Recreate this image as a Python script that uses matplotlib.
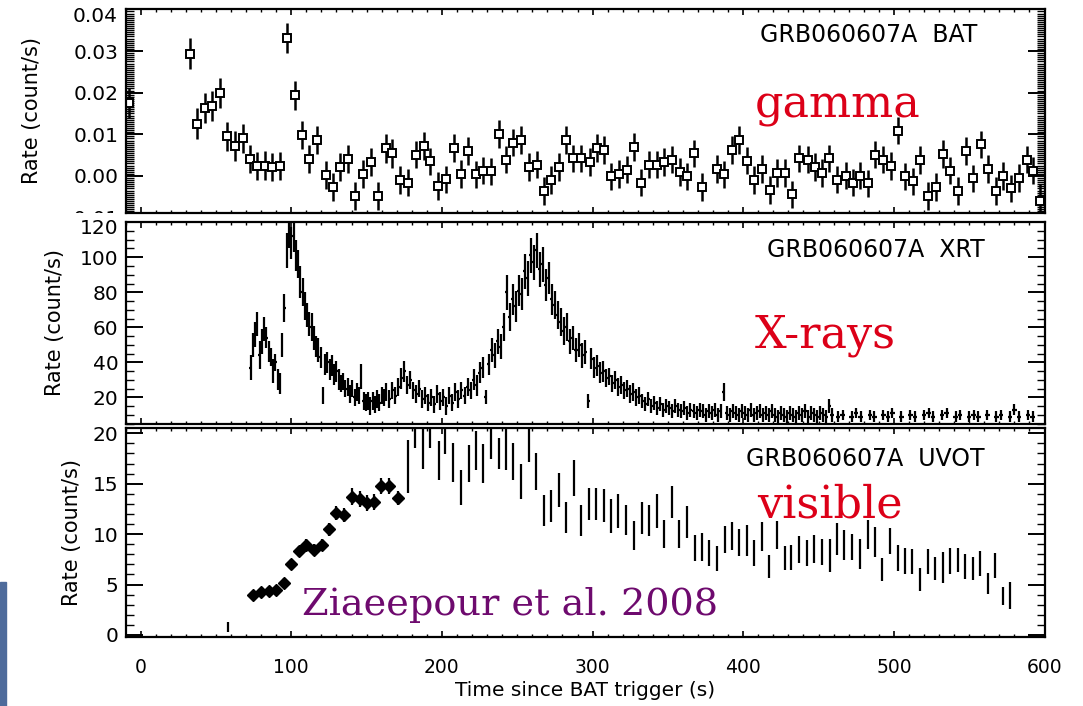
import numpy as np
import matplotlib
matplotlib.use('Agg')
import matplotlib.pyplot as plt
from matplotlib.ticker import MultipleLocator, FuncFormatter
from matplotlib.patches import Rectangle
from matplotlib.transforms import Bbox, TransformedBbox

# ---- BAT (gamma) light curve, ~5 s bins
bat_time = [-8.0, 32.5, 37.6, 42.5, 47.4, 52.4, 57.3, 62.4, 67.7, 72.8, 77.4, 82.3, 87.4, 92.5,
            97.5, 102.4, 107.3, 112.1, 117.3, 122.8, 127.7, 132.5, 137.4, 142.3, 147.6, 152.9,
            157.7, 162.6, 167.2, 172.3, 177.6, 182.7, 187.8, 192.2, 197.3, 202.6, 208.0, 212.8,
            217.2, 222.3, 227.4, 232.5, 237.8, 242.7, 247.5, 252.4, 257.5, 262.8, 267.9, 272.5,
            277.4, 282.5, 287.3, 292.4, 298.0, 302.8, 307.7, 312.3, 317.7, 322.8, 327.8, 332.3,
            337.4, 342.7, 347.7, 352.8, 357.7, 362.6, 367.6, 372.9, 377.7, 382.5, 387.5, 392.4,
            397.5, 402.4, 407.4, 412.7, 417.9, 422.7, 427.8, 432.7, 437.3, 442.9, 447.7, 452.6,
            457.2, 462.5, 468.1, 472.7, 477.6, 482.7, 487.5, 492.6, 498.0, 503.0, 507.4, 512.5,
            517.4, 522.5, 527.8, 532.8, 537.3, 542.4, 547.7, 552.7, 557.9, 562.3, 567.6, 572.7,
            577.8, 583.1, 588.2, 592.2, 597.0]
bat_rate = [0.0176, 0.0294, 0.0125, 0.0164, 0.0168, 0.0200, 0.0095, 0.0072, 0.0090, 0.0041,
            0.0024, 0.0025, 0.0021, 0.0024, 0.0331, 0.0194, 0.0099, 0.0041, 0.0086, 0.0003,
            -0.0026, 0.0021, 0.0041, -0.0048, 0.0005, 0.0033, -0.0048, 0.0066, 0.0054, -0.0010,
            -0.0016, 0.0051, 0.0072, 0.0035, -0.0024, -0.0008, 0.0067, 0.0005, 0.0060, 0.0004,
            0.0013, 0.0011, 0.0101, 0.0039, 0.0080, 0.0086, 0.0021, 0.0027, -0.0036, -0.0010,
            0.0021, 0.0086, 0.0042, 0.0042, 0.0033, 0.0067, 0.0062, -0.0001, 0.0005, 0.0015,
            0.0070, -0.0016, 0.0027, 0.0027, 0.0033, 0.0039, 0.0009, -0.0001, 0.0054, -0.0026,
            -0.0135, 0.0017, 0.0004, 0.0062, 0.0086, 0.0037, -0.0010, 0.0017, -0.0034, 0.0007,
            0.0007, -0.0044, 0.0042, 0.0039, 0.0021, 0.0007, 0.0042, -0.0009, 0.0001, -0.0016,
            0.0001, -0.0018, 0.0051, 0.0039, 0.0024, 0.0109, -0.0001, -0.0013, 0.0038, -0.0048,
            -0.0026, 0.0053, 0.0013, -0.0036, 0.0060, -0.0006, 0.0076, 0.0017, -0.0036, 0.0000,
            -0.0030, -0.0005, 0.0039, 0.0013, -0.0060]
bat_err = [0.0036, 0.0037, 0.0037, 0.0036, 0.0036, 0.0036, 0.0035, 0.0035, 0.0035, 0.0034,
           0.0034, 0.0034, 0.0034, 0.0034, 0.0036, 0.0035, 0.0034, 0.0034, 0.0034, 0.0034,
           0.0034, 0.0034, 0.0034, 0.0034, 0.0034, 0.0034, 0.0034, 0.0034, 0.0034, 0.0033,
           0.0033, 0.0033, 0.0033, 0.0033, 0.0033, 0.0033, 0.0033, 0.0033, 0.0033, 0.0033,
           0.0033, 0.0033, 0.0033, 0.0033, 0.0033, 0.0033, 0.0033, 0.0033, 0.0033, 0.0033,
           0.0033, 0.0033, 0.0033, 0.0033, 0.0033, 0.0033, 0.0033, 0.0033, 0.0033, 0.0033,
           0.0033, 0.0033, 0.0033, 0.0033, 0.0033, 0.0033, 0.0033, 0.0033, 0.0033, 0.0033,
           0.0048, 0.0033, 0.0033, 0.0033, 0.0033, 0.0033, 0.0033, 0.0033, 0.0033, 0.0033,
           0.0033, 0.0033, 0.0033, 0.0033, 0.0033, 0.0033, 0.0033, 0.0033, 0.0033, 0.0033,
           0.0033, 0.0033, 0.0033, 0.0033, 0.0033, 0.0033, 0.0033, 0.0033, 0.0033, 0.0033,
           0.0033, 0.0033, 0.0033, 0.0033, 0.0033, 0.0033, 0.0033, 0.0033, 0.0033, 0.0033,
           0.0033, 0.0033, 0.0033, 0.0033, 0.0040]

# ---- XRT (X-ray) light curve
xrt_time = [73, 74.5, 76, 77.5, 79, 80.5, 82, 83.5, 85, 86.5, 88, 89.5, 91, 92.5, 94, 95.5,
            97, 98.5, 100, 101.5, 103, 104.5, 106, 107.5, 109, 110.5, 112, 113.5, 115, 116.5,
            118, 119.5, 121, 122.5, 124, 125.5, 127, 128.5, 130, 131.5, 133, 134.5, 136, 137.5,
            139, 140.5, 142, 143.5, 145, 146.5, 148, 149.5, 151, 152.5, 154, 155.5, 157, 158.5,
            160, 161.5,
            163, 165, 167, 169, 171, 173, 175, 177, 179, 181, 183, 185, 187, 189, 191, 193,
            195, 197, 199, 201, 203, 205, 207, 209, 211, 213, 215, 217, 219, 221, 223, 225,
            227, 229, 231, 233, 235, 237, 239, 241, 243, 245, 247, 249, 251, 253, 255, 257,
            259, 261, 263, 265, 267, 269, 271, 273, 275, 277, 279, 281, 283, 285, 287, 289,
            291, 293, 295, 297, 299, 301, 303, 305, 307, 309, 311, 313, 315, 317, 319, 321,
            323, 325, 327, 329, 331,
            333, 335, 337, 339, 341, 343, 345, 347, 349, 351, 353, 355, 357, 359, 361, 363,
            365, 367, 369, 371, 373, 375, 377, 379, 381, 383, 385, 387, 389, 391, 393, 395,
            397, 399, 401, 403, 405, 407, 409, 411, 413, 415, 417, 419, 421, 423, 425, 427,
            429, 431, 433, 435, 437, 439, 441, 443, 445, 447, 449, 451, 453, 455, 457, 459,
            463, 466, 472, 475, 478, 484, 487, 493, 496, 499, 505, 511, 514, 520, 523, 526,
            532, 535, 541, 544, 550, 553, 556, 562, 568, 571, 577, 580, 583, 589, 592]
xrt_rate = [37, 50, 56, 62, 44, 52, 59, 54, 46, 43, 35, 40, 30, 28, 50, 71,
            104, 115, 108, 112, 101, 96, 86, 80, 72, 67, 62, 60, 54, 49,
            47, 43, 21, 39, 40, 36, 38, 33, 35, 30, 28, 29, 25, 26,
            22, 25, 20, 23, 21, 32, 18, 17, 18, 15, 18, 16, 19, 17,
            21, 20,
            23, 19, 24, 21, 26, 31, 35, 27, 30, 24, 22, 25, 19, 21, 17, 20,
            16, 22, 18, 20, 15, 21, 17, 23, 19, 24, 21, 26, 24, 30, 27, 34,
            37, 20, 39, 47, 44, 52, 49, 60, 80, 66, 76, 72, 81, 79, 92, 88,
            101, 97, 104, 93, 96, 84, 88, 76, 73, 67, 63, 58, 60, 52, 54, 47,
            50, 44, 46, 18, 42, 37, 38, 34, 35, 31, 32, 28, 30, 26, 27, 24,
            25, 22, 23, 20, 21,
            18, 16, 19, 15, 17, 14, 16, 13, 15, 14, 12, 15, 13, 12, 14, 11,
            13, 12, 11, 13, 12, 10, 12, 11, 13, 10, 12, 23, 11, 10, 12, 11,
            10, 12, 11, 10, 13, 10, 11, 12, 10, 11, 10, 12, 10, 9, 11, 10,
            9, 11, 10, 9, 11, 10, 12, 9, 11, 10, 9, 11, 10, 9, 15, 10,
            9, 10, 9, 11, 9, 10, 9, 10, 9, 11, 9, 10, 9, 10, 11, 9,
            10, 11, 9, 10, 9, 10, 9, 10, 9, 10, 9, 13, 9, 10, 9]
xrt_err = [7, 7, 7, 7, 8, 7, 7, 6, 6, 5, 7, 5, 6, 6, 7, 8,
           10, 10, 9, 9, 9, 8, 9, 8, 8, 7, 7, 8, 7, 6,
           7, 6, 5, 6, 6, 6, 6, 6, 6, 6, 5, 5, 5, 5,
           5, 5, 5, 5, 5, 7, 5, 5, 5, 5, 5, 5, 5, 5,
           5, 5,
           5, 5, 5, 5, 5, 6, 6, 5, 5, 5, 5, 5, 5, 5, 5, 5,
           5, 5, 5, 5, 5, 5, 5, 5, 5, 5, 5, 5, 5, 6, 6, 6,
           6, 4, 6, 7, 7, 7, 7, 8, 10, 8, 9, 9, 9, 9, 10, 10,
           10, 10, 10, 10, 10, 9, 9, 9, 8, 8, 8, 8, 8, 7, 7, 7,
           7, 7, 7, 4, 6, 6, 6, 6, 6, 5, 5, 5, 5, 5, 5, 5,
           5, 5, 5, 5, 5,
           4, 4, 4, 4, 4, 4, 4, 4, 4, 4, 4, 4, 4, 4, 4, 4,
           4, 4, 4, 4, 4, 4, 4, 4, 4, 4, 4, 5, 4, 4, 4, 4,
           4, 4, 4, 4, 4, 4, 4, 4, 4, 4, 4, 4, 4, 4, 4, 4,
           4, 4, 4, 4, 4, 4, 4, 4, 4, 4, 4, 4, 4, 4, 4, 4,
           3, 3, 3, 3, 3, 3, 3, 3, 3, 3, 3, 3, 3, 3, 3, 3,
           3, 3, 3, 3, 3, 3, 3, 3, 3, 3, 3, 3, 3, 3, 3]

# ---- UVOT (visible), early finely binned points
uvot_time = [74.6, 79.9, 85.0, 90.1, 94.9, 100.0, 104.9, 110.0, 115.3, 120.4,
             125.2, 129.6, 135.2, 140.3, 145.4, 150.2, 155.1, 159.7, 165.0, 170.6]
uvot_rate = [4.0, 4.3, 4.4, 4.5, 5.2, 7.0, 8.3, 8.9, 8.4, 8.9,
             10.5, 12.1, 11.9, 13.7, 13.5, 13.1, 13.2, 14.8, 14.8, 13.6]
uvot_err = [0.4, 0.4, 0.4, 0.4, 0.45, 0.5, 0.55, 0.6, 0.6, 0.6,
            0.65, 0.7, 0.7, 0.85, 0.8, 0.8, 0.8, 0.8, 0.8, 0.7]

# ---- UVOT later exposures (error bars only)
uvot2_time = [58.0, 177.4, 182.3, 187.4, 192.2, 197.8, 202.2, 207.3, 212.6, 217.7, 222.8,
              227.6, 232.5, 237.6, 242.7, 247.1, 252.6, 257.9, 262.4, 267.5, 272.5, 277.4,
              282.5, 288.0, 292.4, 297.3, 302.4, 307.3, 312.4, 317.2, 322.3, 327.2, 332.7,
              337.6, 342.7, 347.1, 352.6, 357.5, 362.6, 367.7, 372.5, 377.6, 382.5, 387.6,
              392.4, 397.5, 402.4, 407.3, 412.4, 417.4, 422.3, 427.4, 431.8, 437.3, 442.2,
              447.3, 452.2, 457.3, 462.1, 467.2, 472.5, 477.6, 482.5, 487.6, 492.4, 497.5,
              502.6, 507.5, 512.3, 517.4, 522.5, 527.4, 532.5, 537.3, 542.4, 547.3, 552.4,
              557.2, 562.3, 567.2, 572.3, 577.1]
uvot2_rate = [0.8, 16.7, 20.8, 19.3, 20.6, 17.3, 20.1, 17.1, 14.6, 17.0, 18.3,
              17.0, 19.8, 18.0, 18.4, 17.2, 15.2, 19.5, 16.2, 12.35, 12.8, 14.35,
              11.65, 15.6, 11.35, 12.97, 13.0, 12.85, 11.8, 12.3, 11.4, 9.87, 11.6,
              11.35, 12.3, 10.0, 13.2, 10.0, 11.2, 8.6, 8.7, 8.1, 7.6, 9.5,
              9.8, 9.2, 9.4, 8.1, 9.8, 6.8, 9.9, 7.6, 7.65, 8.5, 8.1,
              8.5, 8.2, 7.9, 9.5, 8.9, 8.7, 8.0, 10.0, 9.2, 6.5, 9.3,
              7.6, 7.3, 7.3, 5.5, 7.3, 6.6, 6.7, 7.3, 7.4, 6.8, 6.6,
              7.1, 5.1, 6.9, 3.9, 3.9]
uvot2_err = [0.5, 2.6, 2.3, 2.8, 2.1, 1.9, 2.2, 1.9, 1.75, 1.8, 1.9,
             1.9, 2.3, 1.5, 2.0, 1.8, 1.75, 2.3, 1.8, 1.55, 1.6, 1.7,
             1.55, 1.8, 1.55, 1.57, 1.55, 1.6, 1.65, 1.65, 1.5, 1.4, 1.57,
             1.57, 1.65, 1.4, 1.57, 1.4, 1.57, 1.3, 1.4, 1.3, 1.25, 1.35,
             1.4, 1.35, 1.55, 1.3, 1.45, 1.15, 1.4, 1.2, 1.25, 1.35, 1.3,
             1.4, 1.3, 1.65, 1.57, 1.5, 1.3, 1.5, 1.45, 1.5, 1.15, 1.3,
             1.3, 1.3, 1.25, 1.1, 1.25, 1.1, 1.5, 1.3, 1.2, 1.25, 1.1,
             1.25, 1.05, 1.25, 0.9, 1.35]

plt.rcParams['font.family'] = 'DejaVu Sans'
fig = plt.figure(figsize=(10.83, 7.06), dpi=100)

left, width = 0.1159, 0.8486
ax1 = fig.add_axes([left, 0.6983, width, 0.2890])
ax2 = fig.add_axes([left, 0.3990, width, 0.2870])
ax3 = fig.add_axes([left, 0.0982, width, 0.2952])


def idl_axes(ax, ymajor, yminor, ylim):
    ax.set_xlim(-10, 600)
    ax.set_ylim(*ylim)
    ax.xaxis.set_major_locator(MultipleLocator(100))
    ax.xaxis.set_minor_locator(MultipleLocator(10))
    ax.yaxis.set_major_locator(MultipleLocator(ymajor))
    ax.yaxis.set_minor_locator(MultipleLocator(yminor))
    ax.tick_params(which='both', direction='in', top=True, right=True)
    ax.tick_params(axis='x', which='major', length=4, width=1.2, pad=15, labelsize=13.5)
    ax.tick_params(axis='x', which='minor', length=2.2, width=1.0)
    ax.tick_params(axis='y', which='major', length=12, width=1.4, pad=5, labelsize=14.5)
    ax.tick_params(axis='y', which='minor', length=5.5, width=1.0)
    for s in ax.spines.values():
        s.set_linewidth(1.6)
    ax.set_ylabel('Rate (count/s)', fontsize=15)


idl_axes(ax1, 0.01, 0.0005, (-0.0089, 0.0401))
idl_axes(ax2, 20, 5, (4.6, 120.3))
idl_axes(ax3, 5, 1, (-0.17, 20.5))
# the topmost labels sit a little below their ticks, drawn separately further down
ax1.yaxis.set_major_formatter(FuncFormatter(lambda v, p: '' if v > 0.0395 else f'{v:.2f}'))
ax2.yaxis.set_major_formatter(FuncFormatter(lambda v, p: '' if v > 119 else f'{v:.0f}'))
ax1.tick_params(axis='x', labelbottom=False)
ax2.tick_params(axis='x', labelbottom=False)
ax1.yaxis.set_label_coords(-0.0909, 0.5)
ax2.yaxis.set_label_coords(-0.0658, 0.5)
ax3.yaxis.set_label_coords(-0.0473, 0.5)
ax3.set_xlabel('Time since BAT trigger (s)', fontsize=14.5)
ax3.xaxis.set_label_coords(0.5, -0.215)

# gamma rays
ax1.errorbar(bat_time, bat_rate, yerr=bat_err, fmt='s', mfc='white', mec='black',
             ms=5.5, mew=1.4, ecolor='black', elinewidth=1.8, capsize=0)

# X-rays
xrt_half = np.gradient(np.asarray(xrt_time, dtype=float)) / 2
xrt_half = np.minimum(xrt_half, 1.5)
ax2.errorbar(xrt_time, xrt_rate, yerr=xrt_err, xerr=xrt_half, fmt='none',
             ecolor='black', elinewidth=1.6, capsize=0)

# visible
ax3.errorbar(uvot_time, uvot_rate, yerr=uvot_err, xerr=2.0, fmt='D', color='black',
             ms=6, elinewidth=1.6, capsize=0)
ax3.errorbar(uvot2_time, uvot2_rate, yerr=uvot2_err, fmt='none', ecolor='black',
             elinewidth=1.6, capsize=0)

# panel titles
title_kw = dict(ha='right', va='top', fontsize=17)
ax1.text(0.9266, 0.931, 'GRB060607A  BAT', transform=ax1.transAxes, **title_kw)
ax2.text(0.935, 0.92, 'GRB060607A  XRT', transform=ax2.transAxes, **title_kw)
ax3.text(0.9353, 0.91, 'GRB060607A  UVOT', transform=ax3.transAxes, **title_kw)

# band names
band_kw = dict(family='DejaVu Serif', fontsize=32, color='#dc0018', va='baseline')
ax1.text(0.685, 0.466, 'gamma', transform=ax1.transAxes, **band_kw)
ax2.text(0.685, 0.377, 'X-rays', transform=ax2.transAxes, **band_kw)
ax3.text(0.687, 0.574, 'visible', transform=ax3.transAxes, **band_kw)
ax3.text(0.192, 0.104, 'Ziaeepour et al. 2008', transform=ax3.transAxes,
         family='DejaVu Serif', fontsize=27.5, color='#6e0a6e', va='baseline')

# top tick labels of the upper two panels
lab_x = 118 / 1083
fig.text(lab_x, 1 - 17 / 706, '0.04', ha='right', va='center', fontsize=14.5)
fig.text(lab_x, 1 - 229 / 706, '120', ha='right', va='center', fontsize=14.5)

# lowest tick label of the top panel, cut off by the panel below
low = fig.text(lab_x, 1 - 220 / 706, '-0.01', ha='right', va='center', fontsize=14.5)
low.set_clip_box(TransformedBbox(Bbox([[0, 0.6983], [0.115, 1]]), fig.transFigure))
low.set_clip_on(True)

# slide accent bar
fig.patches.append(Rectangle((0, 0), 6 / 1083, 124 / 706, transform=fig.transFigure,
                             color='#4e6b9b', zorder=0))

fig.savefig('out.png', dpi=100)
